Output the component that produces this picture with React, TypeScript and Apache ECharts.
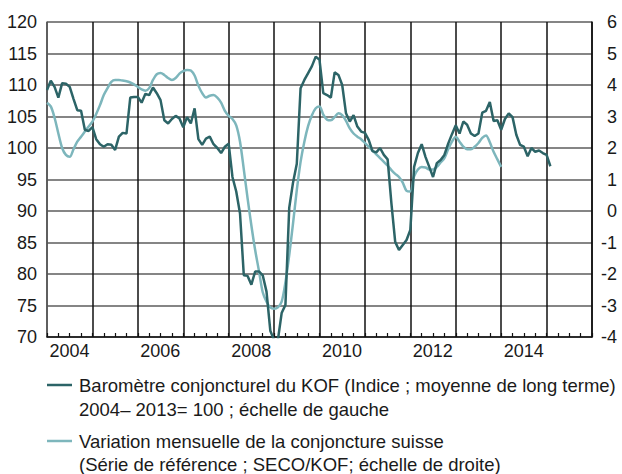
import React, { useEffect, useRef } from "react";
import * as echarts from "echarts";

// Monthly data starting January 2004
const startYear = 2004;
const kofBarometer = [
  109.2, 110.7, 109.7, 108.0, 110.3, 110.2, 109.7, 107.8, 106.0, 105.9,
  102.9, 102.7, 103.3, 101.4, 100.6, 100.2, 100.6, 100.5, 99.7, 101.8,
  102.4, 102.3, 108.0, 108.1, 108.1, 107.2, 108.6, 108.4, 109.6, 108.7,
  107.6, 104.4, 103.9, 104.6, 105.1, 104.7, 103.3, 104.9, 103.9, 106.3,
  101.4, 100.5, 101.5, 101.8, 100.6, 100.0, 99.2, 100.2, 100.7, 95.4,
  93.1, 89.6, 79.8, 79.7, 78.3, 80.4, 80.4, 79.8, 77.2, 71.0,
  69.5, 69.5, 73.8, 75.1, 90.5, 94.5, 97.5, 109.5, 110.8, 111.9,
  113.0, 114.5, 114.0, 108.7, 108.4, 108.0, 112.0, 111.6, 110.0, 105.5,
  104.2, 105.2, 103.4, 102.6, 102.4, 101.3, 99.5, 99.3, 100.0, 98.9,
  98.2, 91.2, 85.1, 83.8, 84.6, 85.4, 87.0, 97.0, 99.2, 100.6,
  98.6, 97.0, 95.4, 97.6, 98.1, 98.9, 100.7, 102.2, 103.6, 102.3,
  104.2, 103.7, 102.3, 101.9, 102.3, 105.6, 105.9, 107.3, 104.3, 104.4,
  102.9, 104.6, 105.5, 104.9, 102.1, 100.5, 100.2, 98.7, 100.0, 99.4,
  99.6, 99.2, 98.9, 97.1,
];
const monthlyChange = [
  3.44, 3.32, 2.96, 2.46, 2.0, 1.78, 1.72, 1.96, 2.2, 2.36,
  2.52, 2.68, 2.84, 3.08, 3.36, 3.68, 3.9, 4.1, 4.16, 4.16,
  4.14, 4.12, 4.08, 4.02, 3.94, 3.86, 3.82, 3.9, 4.16, 4.34,
  4.38, 4.32, 4.22, 4.16, 4.22, 4.36, 4.44, 4.48, 4.46, 4.3,
  3.98, 3.74, 3.6, 3.66, 3.68, 3.6, 3.44, 3.18, 3.02, 2.92,
  2.72, 2.2, 1.32, 0.4, -0.46, -1.24, -1.9, -2.58, -2.88, -3.06,
  -3.1, -3.06, -2.88, -2.26, -1.4, -0.4, 0.66, 1.56, 2.2, 2.7,
  3.04, 3.26, 3.32, 3.06, 2.9, 2.88, 2.98, 3.1, 3.04, 2.86,
  2.62, 2.46, 2.36, 2.28, 2.16, 2.04, 1.92, 1.8, 1.68, 1.56,
  1.44, 1.3, 1.18, 1.08, 0.9, 0.64, 0.62, 1.1, 1.32, 1.4,
  1.38, 1.32, 1.32, 1.4, 1.54, 1.68, 1.96, 2.2, 2.36, 2.2,
  2.04, 1.96, 1.96, 2.04, 2.16, 2.32, 2.4, 2.18, 1.88, 1.64,
  1.4,
];
const legendKof = ["Baromètre conjoncturel du KOF (Indice ; moyenne de long terme)", "2004– 2013= 100 ; échelle de gauche"];
const legendChange = ["Variation mensuelle de la conjoncture suisse", "(Série de référence ; SECO/KOF; échelle de droite)"];

const DARK = "#2c6467";
const LIGHT = "#7db6bc";
const FONT = "Liberation Sans, Arial, sans-serif";

export default function App() {
  const ref = useRef<HTMLDivElement>(null);
  useEffect(() => {
    if (!ref.current) return;
    const chart = echarts.init(ref.current, null, { renderer: "svg" });
    const toPts = (arr: number[]) => arr.map((v, i) => [startYear + i / 12, v]);
    const legendFont = `18.5px ${FONT}`;
    chart.setOption({
      animation: false,
      textStyle: { fontFamily: FONT },
      grid: { left: 47, right: 30, top: 22, bottom: 137 },
      xAxis: {
        type: "value",
        min: 2004,
        max: 2016,
        interval: 1,
        axisLine: { show: true, onZero: false, lineStyle: { color: "#111", width: 1.5 } },
        axisTick: { show: true, inside: true, length: 4, lineStyle: { color: "#111", width: 1.2 } },
        minorTick: { show: true, splitNumber: 4, length: 4, lineStyle: { color: "#111", width: 1.2 } },
        splitLine: { show: true, lineStyle: { color: "#111", width: 1.5 } },
        axisLabel: {
          margin: 5,
          fontSize: 18,
          color: "#1a1a1a",
          padding: [0, 0, 0, 45],
          showMaxLabel: false,
          formatter: (v: number) => (v % 2 === 0 && v < 2016 ? String(v) : ""),
        },
      },
      yAxis: [
        {
          type: "value",
          min: 70,
          max: 120,
          interval: 5,
          axisLine: { show: true, lineStyle: { color: "#666", width: 1.5 } },
          axisTick: { show: false },
          splitLine: { show: true, lineStyle: { color: "#5c5c5c", width: 1.5 } },
          axisLabel: { margin: 10, fontSize: 18, color: "#1a1a1a" },
        },
        {
          type: "value",
          min: -4,
          max: 6,
          interval: 1,
          position: "right",
          axisLine: { show: true, lineStyle: { color: "#111", width: 1.5 } },
          axisTick: { show: false },
          splitLine: { show: false },
          axisLabel: { margin: 25, align: "right", fontSize: 18, color: "#1a1a1a" },
        },
      ],
      graphic: [
        { type: "line", shape: { x1: 47, y1: 385, x2: 72, y2: 385 }, style: { stroke: DARK, lineWidth: 2.5 } },
        { type: "text", x: 79, y: 385, style: { text: legendKof[0], font: legendFont, fill: "#1a1a1a", textVerticalAlign: "middle" } },
        { type: "text", x: 79, y: 409, style: { text: legendKof[1], font: legendFont, fill: "#1a1a1a", textVerticalAlign: "middle" } },
        { type: "line", shape: { x1: 47, y1: 441, x2: 72, y2: 441 }, style: { stroke: LIGHT, lineWidth: 2.5 } },
        { type: "text", x: 79, y: 441, style: { text: legendChange[0], font: legendFont, fill: "#1a1a1a", textVerticalAlign: "middle" } },
        { type: "text", x: 79, y: 464, style: { text: legendChange[1], font: legendFont, fill: "#1a1a1a", textVerticalAlign: "middle" } },
      ],
      series: [
        {
          name: "Variation mensuelle",
          type: "line",
          yAxisIndex: 1,
          data: toPts(monthlyChange),
          showSymbol: false,
          smooth: 0.3,
          lineStyle: { color: LIGHT, width: 2.5 },
          clip: true,
        },
        {
          name: "Baromètre KOF",
          type: "line",
          yAxisIndex: 0,
          data: toPts(kofBarometer),
          showSymbol: false,
          lineStyle: { color: DARK, width: 2.5 },
          clip: true,
        },
      ],
    });
    return () => chart.dispose();
  }, []);
  return <div ref={ref} style={{ position: "absolute", left: 0, top: 0, width: 622, height: 474 }} />;
}
